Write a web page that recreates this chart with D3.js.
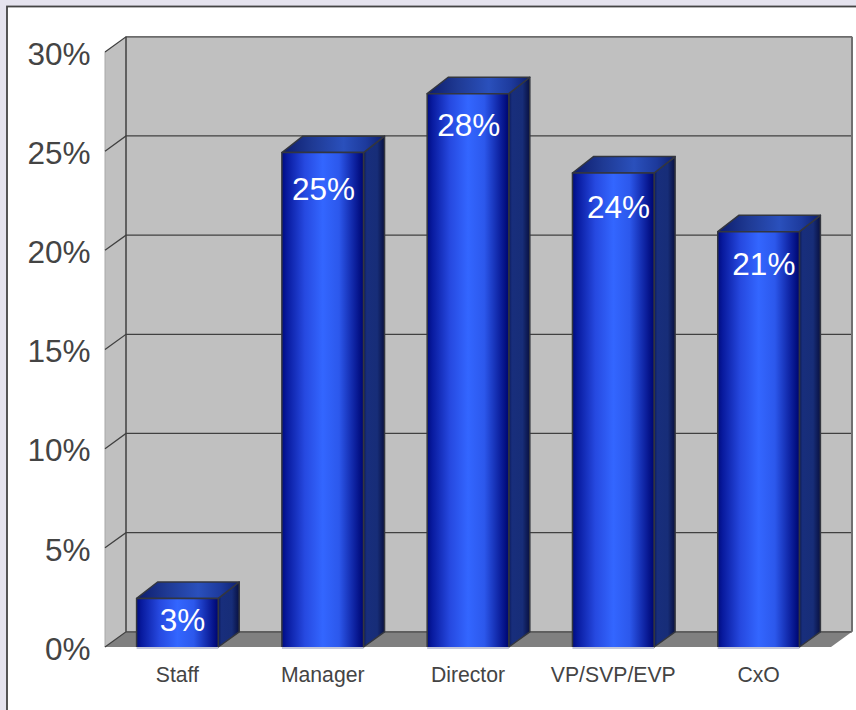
<!DOCTYPE html>
<html><head><meta charset="utf-8">
<script src="https://cdn.jsdelivr.net/npm/d3@7/dist/d3.min.js"></script>
<style>html,body{margin:0;padding:0;background:#e5e3ee;overflow:hidden}svg{display:block}text{font-family:"Liberation Sans",Arial,sans-serif}</style>
</head><body><svg id="c" width="856" height="710"></svg>
<script>
const categories = ["Staff","Manager","Director","VP/SVP/EVP","CxO"];
const values = [2.45,24.93,27.9,23.9,20.94];
const labels = ["3%","25%","28%","24%","21%"];
const ticks = [0,5,10,15,20,25,30];

const svg = d3.select("#c");
const dx = 21, dy = -15.2, barDy = -16.4;
// label placement inside the bars, as in the original (not data)
const labelNudge = {Staff:[5,33],Manager:[0.8,47],Director:[0.8,42.5],"VP/SVP/EVP":[5.3,45],CxO:[5.3,43.5]};
const x = d3.scaleBand().domain(categories).range([105,831]).paddingInner(0.438).paddingOuter(0.2175);
const y = d3.scaleLinear().domain([0,30]).range([647,52]);
const poly = p => p.map(a=>a.join(",")).join(" ");

const defs = svg.append("defs");
function grad(id, stops){
  const g = defs.append("linearGradient").attr("id",id).attr("x1",0).attr("x2",1).attr("y1",0).attr("y2",0);
  stops.forEach(s=>g.append("stop").attr("offset",s[0]).attr("stop-color",s[1]));
}
grad("front",[[0,"#000c80"],[0.06,"#081a9e"],[0.28,"#2649e0"],[0.5,"#3366ff"],[0.7,"#2c58ec"],[0.9,"#0c1f9c"],[0.98,"#000a78"],[1,"#000a70"]]);
grad("top",[[0,"#0d1c6c"],[0.3,"#1f3a94"],[0.6,"#2a50bc"],[0.82,"#1d3a9c"],[1,"#0e1f6c"]]);
grad("side",[[0,"#0c1a58"],[0.15,"#182e7c"],[0.65,"#172d78"],[1,"#081040"]]);

// panel
svg.append("rect").attr("x",7).attr("y",6.5).attr("width",870).attr("height",730)
  .attr("fill","#fff").attr("stroke","#444").attr("stroke-width",1.8);

const [x0,x1] = x.range(), y0=y(0), y30=y(30);
// walls
svg.append("rect").attr("x",x0+dx).attr("y",y30+dy).attr("width",x1-x0).attr("height",y0-y30).attr("fill","#c0c0c0");
svg.append("polygon").attr("points",poly([[x0,y30],[x0+dx,y30+dy],[x0+dx,y0+dy],[x0,y0]])).attr("fill","#c0c0c0");
svg.append("line").attr("x1",x0).attr("x2",x0).attr("y1",y30).attr("y2",y0).attr("stroke","#a8a8a8").attr("stroke-width",1);
svg.append("polygon").attr("points",poly([[x0,y0],[x0+dx,y0+dy],[x1+dx,y0+dy],[x1,y0]])).attr("fill","#808080");

// grid
const g = svg.append("g").attr("fill","none").attr("stroke","#404040").attr("stroke-width",1.3);
ticks.forEach(t=>{
  g.append("polyline").attr("points",poly([[x0,y(t)],[x0+dx,y(t)+dy],[x1+dx,y(t)+dy]]));
});
g.append("line").attr("x1",x0+dx).attr("x2",x0+dx).attr("y1",y30+dy).attr("y2",y0+dy).attr("stroke-width",1.5);
g.append("line").attr("x1",x1+dx).attr("x2",x1+dx).attr("y1",y30+dy).attr("y2",y0+dy).attr("stroke","#707070").attr("stroke-width",2);

// bars
const bars = svg.append("g").selectAll("g").data(categories.map((c,i)=>({c,v:values[i],l:labels[i]}))).join("g");
const bw = x.bandwidth();
const edge = {stroke:"#33363f","stroke-width":1.5,"stroke-linejoin":"round"};
function st(s,o){for(const k in o)s.attr(k,o[k]);return s;}
st(bars.append("polygon").attr("points",d=>{const a=x(d.c),t=y(d.v);return poly([[a+bw,t],[a+bw+dx,t+barDy],[a+bw+dx,y0+dy],[a+bw,y0]]);}).attr("fill","url(#side)"),edge);
st(bars.append("polygon").attr("points",d=>{const a=x(d.c),t=y(d.v);return poly([[a,t],[a+dx,t+barDy],[a+bw+dx,t+barDy],[a+bw,t]]);}).attr("fill","url(#top)"),edge);
bars.append("rect").attr("x",d=>x(d.c)).attr("y",d=>y(d.v)).attr("width",bw).attr("height",d=>y0-y(d.v)).attr("fill","url(#front)");
st(bars.append("polyline").attr("fill","none").attr("points",d=>{const a=x(d.c),t=y(d.v);return poly([[a,y0],[a,t],[a+bw,t],[a+bw,y0]]);}),edge);
bars.append("line").attr("x1",d=>x(d.c)).attr("x2",d=>x(d.c)+bw).attr("y1",y0+1).attr("y2",y0+1).attr("stroke","#c4c8dc").attr("stroke-width",2);
bars.append("text").attr("x",d=>x(d.c)+bw/2+labelNudge[d.c][0]).attr("y",d=>y(d.v)+labelNudge[d.c][1]).attr("text-anchor","middle").attr("fill","#fff").attr("font-size",31.5).text(d=>d.l);

// axis labels
svg.append("g").selectAll("text").data(ticks).join("text").attr("x",90.5).attr("y",t=>y(t)+12.8).attr("text-anchor","end").attr("fill","#444").attr("font-size",31.5).text(t=>t+"%");
svg.append("g").selectAll("text").data(categories).join("text").attr("x",c=>x(c)+bw/2).attr("y",682).attr("text-anchor","middle").attr("fill","#444").attr("font-size",21.2).text(c=>c);
</script></body></html>
